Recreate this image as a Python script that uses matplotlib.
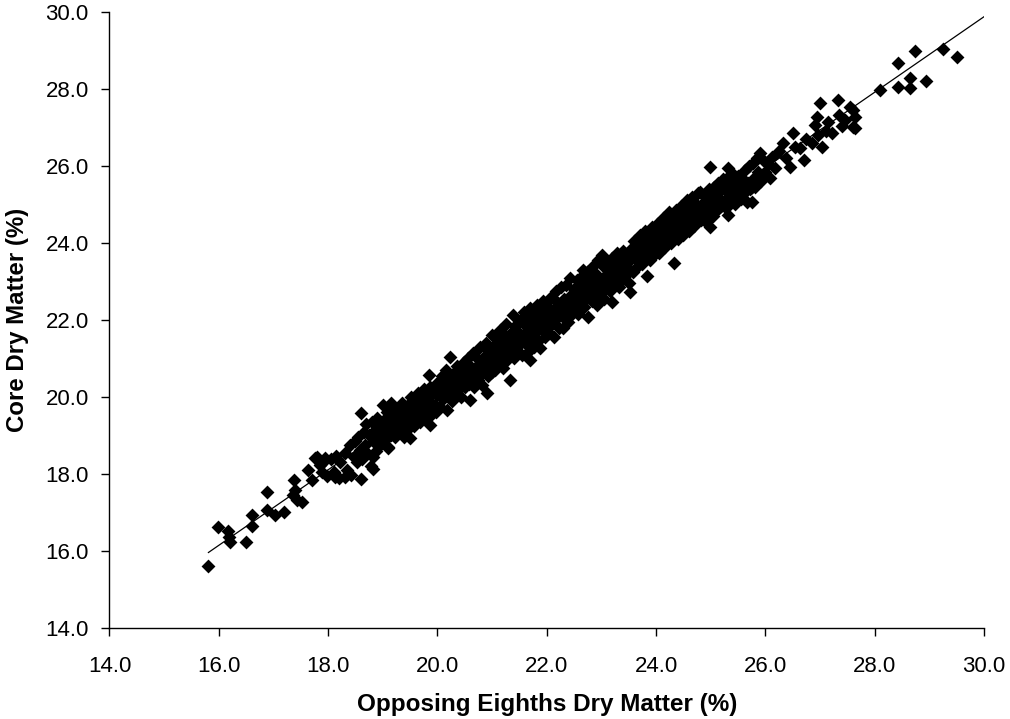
import matplotlib
matplotlib.use("Agg")
import matplotlib.pyplot as plt
import numpy as np
from matplotlib.ticker import FormatStrFormatter

# Opposing eighths dry matter (%) vs core dry matter (%)
points = [
    # low end
    (15.81, 15.61), (15.99, 16.61), (16.17, 16.53), (16.19, 16.37), (16.20, 16.24),
    (16.49, 16.24), (16.60, 16.94), (16.61, 16.65), (16.88, 17.54), (16.89, 17.06),
    (17.03, 16.94), (17.20, 17.02), (17.38, 17.84), (17.36, 17.45), (17.39, 17.58),
    (17.52, 17.28), (17.43, 17.32), (17.64, 18.10), (17.71, 17.84), (17.76, 18.41),
    (17.85, 18.23), (17.89, 18.06), (17.79, 18.45), (17.94, 18.41), (18.13, 17.93),
    (18.31, 17.93), (18.61, 17.86), (18.82, 18.12), (18.82, 18.45), (19.10, 18.67),
    # 17.9 - 18.5
    (17.92, 18.35), (17.98, 17.95), (18.05, 18.40), (18.10, 18.05), (18.15, 18.48),
    (18.20, 17.90), (18.22, 18.30), (18.30, 18.55), (18.35, 18.10), (18.40, 18.75),
    (18.42, 17.98), (18.48, 18.45), (18.50, 18.85),
    # 18.5 - 19.0
    (18.52, 18.30), (18.55, 18.95), (18.58, 18.62), (18.60, 19.58), (18.62, 18.40),
    (18.65, 19.10), (18.68, 18.75), (18.70, 19.30), (18.72, 18.55), (18.75, 19.00),
    (18.78, 18.20), (18.80, 19.35), (18.82, 18.85), (18.85, 19.15), (18.88, 18.60),
    (18.90, 19.45), (18.92, 19.00), (18.95, 18.75), (18.98, 19.25), (19.00, 19.80),
    # 19.0 - 19.5
    (19.02, 19.40), (19.03, 18.85), (19.05, 19.15), (19.08, 19.60), (19.10, 18.70),
    (19.12, 19.30), (19.15, 19.85), (19.15, 19.00), (19.18, 19.50), (19.20, 19.20),
    (19.22, 18.95), (19.25, 19.70), (19.27, 19.40), (19.30, 19.10), (19.32, 19.55),
    (19.35, 19.85), (19.36, 19.25), (19.38, 18.97), (19.40, 19.65), (19.42, 19.40),
    (19.45, 19.15), (19.47, 19.80), (19.48, 19.55), (19.50, 18.93), (19.50, 19.30),
    # 19.5 - 20.0
    (19.52, 20.00), (19.55, 19.60), (19.57, 19.25), (19.60, 19.80), (19.62, 19.45),
    (19.65, 20.10), (19.66, 19.65), (19.68, 19.35), (19.70, 19.90), (19.72, 19.55),
    (19.75, 20.20), (19.76, 19.75), (19.78, 19.45), (19.80, 20.00), (19.82, 19.65),
    (19.85, 20.57), (19.86, 19.27), (19.87, 20.25), (19.88, 19.85), (19.90, 19.55),
    (19.92, 20.10), (19.95, 19.80), (19.97, 20.35), (19.98, 19.60), (20.00, 20.05),
    # 20.0 - 20.5
    (20.02, 20.40), (20.04, 19.75), (20.06, 20.20), (20.08, 20.55), (20.10, 19.95),
    (20.12, 20.30), (20.15, 20.70), (20.17, 19.66), (20.18, 20.10), (20.20, 20.45),
    (20.23, 21.05), (20.24, 20.20), (20.26, 19.90), (20.28, 20.60), (20.30, 20.35),
    (20.32, 20.05), (20.35, 20.80), (20.37, 20.50), (20.40, 20.20), (20.42, 20.70),
    (20.44, 20.00), (20.46, 20.45), (20.48, 20.90), (20.50, 20.25),
    # 20.5 - 21.0
    (20.52, 20.65), (20.55, 21.00), (20.57, 20.35), (20.60, 19.92), (20.60, 20.80),
    (20.62, 20.50), (20.65, 21.15), (20.67, 20.25), (20.70, 20.70), (20.72, 21.00),
    (20.74, 20.45), (20.76, 20.85), (20.78, 21.30), (20.80, 20.60), (20.82, 20.30),
    (20.85, 21.05), (20.86, 20.75), (20.88, 21.40), (20.90, 20.10), (20.92, 20.55),
    (20.94, 21.20), (20.96, 20.90), (20.99, 21.61), (21.00, 20.65),
    # 21.0 - 21.5
    (21.02, 21.30), (21.04, 21.00), (21.06, 20.70), (21.08, 21.55), (21.10, 21.15),
    (21.12, 20.85), (21.15, 21.75), (21.16, 21.40), (21.18, 21.05), (21.20, 20.75),
    (21.22, 21.60), (21.24, 21.25), (21.26, 21.90), (21.28, 20.95), (21.30, 21.45),
    (21.33, 20.44), (21.34, 21.15), (21.36, 21.70), (21.38, 21.35), (21.39, 22.13),
    (21.40, 21.00), (21.42, 21.85), (21.44, 21.50), (21.46, 21.20), (21.48, 21.70),
    (21.50, 21.35),
    # 21.5 - 22.0
    (21.52, 22.00), (21.54, 21.10), (21.56, 21.60), (21.58, 22.20), (21.60, 21.40),
    (21.62, 21.85), (21.64, 21.15), (21.66, 22.05), (21.68, 21.65), (21.69, 20.96),
    (21.70, 22.30), (21.72, 21.50), (21.74, 21.90), (21.76, 21.30), (21.78, 22.15),
    (21.80, 21.70), (21.82, 22.40), (21.84, 21.45), (21.86, 21.95), (21.88, 21.26),
    (21.90, 22.20), (21.92, 21.75), (21.94, 22.50), (21.96, 21.55), (21.98, 22.05),
    (22.00, 21.85),
    # 22.0 - 22.5
    (22.02, 22.35), (22.04, 21.65), (22.06, 22.10), (22.08, 22.60), (22.10, 21.90),
    (22.12, 22.25), (22.14, 21.55), (22.16, 22.75), (22.18, 22.05), (22.20, 22.45),
    (22.22, 21.80), (22.24, 22.30), (22.26, 22.85), (22.28, 22.10), (22.30, 21.78),
    (22.32, 22.55), (22.34, 22.20), (22.36, 22.90), (22.38, 21.95), (22.40, 22.40),
    (22.43, 23.08), (22.44, 22.65), (22.46, 22.15), (22.48, 22.50), (22.50, 22.80),
    # 22.5 - 23.0
    (22.52, 22.30), (22.54, 22.60), (22.56, 23.05), (22.58, 22.15), (22.60, 22.85),
    (22.62, 22.45), (22.64, 23.15), (22.66, 22.70), (22.67, 23.30), (22.68, 22.35),
    (22.70, 22.95), (22.72, 22.55), (22.74, 23.25), (22.76, 22.09), (22.78, 22.80),
    (22.80, 23.10), (22.82, 22.50), (22.84, 23.40), (22.86, 22.95), (22.88, 22.65),
    (22.90, 23.20), (22.92, 22.40), (22.94, 23.55), (22.96, 22.85), (22.98, 23.05),
    (23.00, 22.70),
    # 23.0 - 23.5
    (23.02, 23.40), (23.01, 23.69), (23.04, 22.55), (23.06, 23.15), (23.08, 22.85),
    (23.10, 23.50), (23.12, 23.00), (23.14, 23.30), (23.16, 22.75), (23.19, 22.48),
    (23.20, 23.60), (23.22, 23.15), (23.24, 22.95), (23.26, 23.45), (23.28, 23.75),
    (23.30, 23.20), (23.32, 22.85), (23.34, 23.55), (23.36, 23.30), (23.38, 23.05),
    (23.40, 23.80), (23.42, 23.45), (23.44, 23.15), (23.46, 23.65), (23.48, 23.35),
    (23.50, 22.95),
    # 23.5 - 24.0
    (23.52, 22.74), (23.53, 23.55), (23.55, 23.85), (23.57, 23.25), (23.60, 24.05),
    (23.62, 23.65), (23.64, 23.35), (23.66, 23.90), (23.68, 23.50), (23.70, 24.20),
    (23.72, 23.75), (23.74, 23.45), (23.76, 24.00), (23.78, 23.65), (23.80, 24.30),
    (23.83, 23.15), (23.84, 23.80), (23.86, 24.10), (23.88, 23.55), (23.90, 24.35),
    (23.92, 24.42), (23.93, 23.95), (23.96, 23.70), (23.98, 24.20),
    # 24.0 - 24.5
    (24.00, 23.85), (24.02, 24.50), (24.04, 24.10), (24.06, 23.75), (24.08, 24.35),
    (24.10, 24.00), (24.12, 24.65), (24.14, 24.25), (24.16, 23.90), (24.18, 24.50),
    (24.20, 24.60), (24.22, 24.15), (24.24, 24.80), (24.26, 24.35), (24.28, 24.00),
    (24.30, 24.60), (24.32, 23.47), (24.34, 24.25), (24.36, 24.85), (24.38, 24.45),
    (24.40, 24.10), (24.42, 24.70), (24.44, 24.35), (24.46, 24.95), (24.48, 24.50),
    (24.50, 24.20),
    # 24.5 - 25.0
    (24.52, 24.80), (24.54, 24.45), (24.56, 25.12), (24.58, 24.65), (24.60, 24.30),
    (24.62, 24.95), (24.64, 24.60), (24.66, 25.20), (24.68, 24.75), (24.70, 24.45),
    (24.72, 25.05), (24.74, 24.70), (24.76, 25.30), (24.78, 24.90), (24.80, 25.33),
    (24.82, 24.60), (24.84, 25.00), (24.86, 24.75), (24.88, 25.25), (24.90, 24.95),
    (24.92, 24.55), (24.94, 25.15), (24.96, 25.40), (24.99, 24.42), (24.99, 25.98),
    (25.00, 24.85),
    # 25.0 - 25.5
    (25.02, 25.20), (25.04, 24.70), (25.06, 25.45), (25.08, 25.00), (25.10, 25.30),
    (25.12, 24.85), (25.14, 25.55), (25.16, 25.15), (25.18, 24.95), (25.20, 25.40),
    (25.22, 25.65), (25.24, 25.10), (25.26, 25.45), (25.28, 24.90), (25.30, 25.70),
    (25.32, 24.73), (25.32, 25.94), (25.34, 25.30), (25.36, 25.55), (25.38, 25.10),
    (25.40, 25.80), (25.42, 25.35), (25.44, 25.00), (25.46, 25.60), (25.48, 25.25),
    (25.50, 25.75),
    # 25.5 - 26.0
    (25.52, 25.45), (25.55, 25.15), (25.58, 25.70), (25.60, 25.30), (25.63, 25.90),
    (25.66, 25.07), (25.68, 25.55), (25.70, 26.00), (25.72, 25.40), (25.75, 25.07),
    (25.75, 25.46), (25.78, 26.07), (25.80, 25.70), (25.81, 25.46), (25.84, 26.20),
    (25.87, 25.85), (25.90, 26.33), (25.92, 25.60), (25.96, 26.15), (26.00, 25.85),
    # 26.0 - 27.0
    (26.04, 26.05), (26.09, 25.68), (26.12, 26.24), (26.18, 25.95), (26.25, 26.40),
    (26.33, 26.59), (26.38, 26.20), (26.45, 25.98), (26.51, 26.85), (26.55, 26.50),
    (26.64, 26.46), (26.70, 26.16), (26.75, 26.70), (26.85, 26.60), (26.91, 27.07),
    (26.94, 27.28), (26.97, 26.81), (27.00, 27.63), (27.03, 26.50),
    # 27.0 - 27.7
    (27.10, 26.90), (27.15, 27.15), (27.22, 26.85), (27.32, 27.71), (27.34, 27.32),
    (27.40, 27.05), (27.45, 27.20), (27.55, 27.54), (27.61, 27.02), (27.61, 27.45),
    (27.64, 27.28), (27.64, 26.98),
    # high end
    (28.10, 27.97), (28.43, 28.67), (28.43, 28.06), (28.65, 28.28), (28.65, 28.02),
    (28.74, 29.00), (28.94, 28.22), (29.25, 29.03), (29.51, 28.84),
]
opposing_eighths = np.array([p[0] for p in points])
core = np.array([p[1] for p in points])

x_ticks = [14.0, 16.0, 18.0, 20.0, 22.0, 24.0, 26.0, 28.0, 30.0]
y_ticks = [14.0, 16.0, 18.0, 20.0, 22.0, 24.0, 26.0, 28.0, 30.0]
x_label = "Opposing Eighths Dry Matter (%)"
y_label = "Core Dry Matter (%)"

plt.rcParams['font.family'] = ['Liberation Sans', 'DejaVu Sans']

fig = plt.figure(figsize=(10.10, 7.19), dpi=100)
ax = fig.add_axes([0.1084, 0.1266, 0.8659, 0.8567])

ax.scatter(opposing_eighths, core, marker='D', s=50, color='black',
           linewidths=0, zorder=2)

slope, intercept = np.polyfit(opposing_eighths, core, 1)
xl = np.array([opposing_eighths.min(), 30.0])
ax.plot(xl, slope * xl + intercept, color='black', lw=0.9, zorder=3)

ax.set_xlim(14, 30)
ax.set_ylim(14, 30)
ax.set_xticks(x_ticks)
ax.set_yticks(y_ticks)
ax.xaxis.set_major_formatter(FormatStrFormatter('%.1f'))
ax.yaxis.set_major_formatter(FormatStrFormatter('%.1f'))
ax.tick_params(axis='both', direction='out', length=6, width=1, labelsize=16,
               colors='black')
ax.tick_params(axis='x', pad=14)
ax.tick_params(axis='y', pad=9)
for s in ['top', 'right']:
    ax.spines[s].set_visible(False)
for s in ['left', 'bottom']:
    ax.spines[s].set_linewidth(1)
    ax.spines[s].set_color('black')

ax.set_xlabel(x_label, fontsize=17.5, fontweight='bold', labelpad=12)
ax.set_ylabel(y_label, fontsize=17.3, fontweight='bold', labelpad=12)

fig.savefig("out.png", dpi=100)
